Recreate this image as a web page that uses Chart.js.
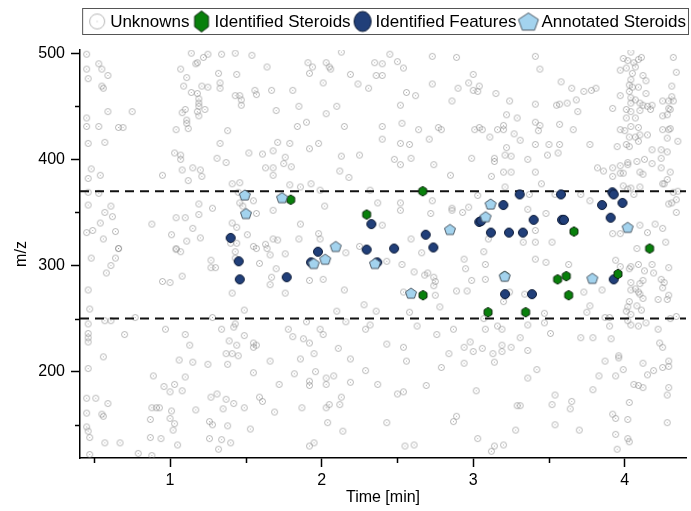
<!DOCTYPE html>
<html>
<head>
<meta charset="utf-8">
<title>m/z vs time</title>
<script src="https://cdn.jsdelivr.net/npm/chart.js@4.4.0/dist/chart.umd.min.js"></script>
<style>
  html, body { margin: 0; padding: 0; background: #fff; }
  #wrap { width: 691px; height: 511px; }
</style>
</head>
<body>
<div id="wrap"><canvas id="mz-chart" width="691" height="511"></canvas></div>
<script>
// Retention time [min] vs m/z feature map

const X_MIN = 0.406, X_MAX = 4.404;
const Y_MIN = 118.7, Y_MAX = 503;
const xTicks = [1, 2, 3, 4];
const xMinorTicks = [0.5, 1.5, 2.5, 3.5];
const yTicks = [200, 300, 400, 500];
const yMinorTicks = [150, 250, 350, 450];
const windowLimits = [370, 250];

const LABELS = ["Unknowns", "Identified Steroids", "Identified Features", "Annotated Steroids"];

const identifiedSteroids = [
  [1.796, 362], [2.297, 348], [2.667, 370], [2.669, 272], [3.098, 256], [3.346, 256],
  [3.208, 290], [3.557, 287], [3.614, 290], [3.630, 272], [3.665, 332], [3.955, 292],
  [4.164, 316],
];

const identifiedFeatures = [
  [1.400, 326], [1.453, 304], [1.460, 287], [1.770, 289], [1.976, 313], [1.930, 303],
  [2.297, 315], [2.328, 339], [2.367, 303], [2.478, 316], [2.687, 329], [2.737, 317],
  [3.040, 341], [3.053, 342], [3.117, 331], [3.199, 357], [3.210, 273], [3.236, 331],
  [3.307, 367], [3.328, 331], [3.388, 273], [3.399, 343], [3.579, 367], [3.586, 343],
  [3.599, 343], [3.850, 357], [3.907, 345], [3.918, 369], [3.927, 367], [3.927, 287],
  [3.985, 359],
];

const annotatedSteroids = [
  [1.493, 366.5], [1.501, 349], [1.739, 364], [2.093, 318], [1.948, 302], [2.024, 306],
  [2.352, 302], [2.590, 274], [2.847, 334], [3.082, 346], [3.115, 358], [3.208, 290],
  [3.786, 288], [4.019, 336],
];

const unknowns = [
  // 0.4 - 2.4 min, upper half
  [0.45,499],[1.14,500],[1.17,490],[1.18,491],[1.22,496],[1.25,499],[1.34,499],[1.43,500],[1.54,498],[2.13,501],
  [0.53,490],[0.45,485],[0.55,485],[1.07,485],[1.64,487],[1.91,491],[1.94,487],[1.92,481],[2.03,491],[2.05,487],
  [2.06,485],[2.35,491],[2.40,490],[0.46,476],[0.59,479],[1.32,481],[1.44,480],[1.11,477],[2.19,480],[2.36,479],
  [2.40,479],[0.55,469],[0.56,467],[1.09,469],[1.21,469],[1.25,468],[1.33,472],[1.33,467],[1.67,465],[1.81,465],
  [1.56,465],[2.01,472],[2.24,471],[2.31,467],[1.14,463],[1.18,462],[1.19,457],[1.19,453],[1.43,460],[1.46,460],
  [1.47,456],[1.47,451],[1.57,461],[1.19,450],[0.59,445],[0.75,445],[1.08,444],[1.10,447],[1.18,445],[1.19,441],
  [1.23,447],[1.70,446],[1.85,450],[2.03,443],[2.10,450],[0.45,439],[0.45,431],[0.53,431],[0.66,430],[0.69,430],
  [1.11,437],[1.11,434],[1.12,429],[1.04,428],[1.38,427],[1.84,431],[1.90,435],[2.15,431],[2.40,431],[0.46,415],
  [0.57,416],[1.33,415],[1.71,416],[1.79,415],[1.98,415],[2.40,419],[1.92,410],[1.03,406],[1.07,404],[1.07,400],
  [1.31,401],[1.37,397],[1.52,406],[1.61,405],[1.68,408],[1.76,402],[2.13,403],[2.25,404],[0.48,391],[0.46,382],
  [0.54,385],[1.08,390],[1.15,392],[1.20,390],[1.21,384],[0.95,385],[1.12,380],[1.63,392],[1.68,392],[1.75,396],
  [1.68,385],[1.80,393],[2.12,389],[2.18,383],[1.46,378],[1.41,377],[1.79,376],[1.86,374],[1.93,377],[0.46,369],
  [0.53,368],[1.45,369],[1.99,371],[2.32,371],[0.46,357],[0.57,350],[0.61,356],[0.62,346],[0.54,340],[0.49,333],
  [0.45,331],[0.64,332],[0.56,325],[0.66,316],[0.88,339],[1.04,345],[1.10,345],[1.19,358],[1.19,348],[1.28,354],
  [1.15,335],[1.01,329],[1.11,323],[1.20,326],[1.04,316],[1.46,359],[1.48,356],[1.55,361],[1.57,349],[1.41,340],
  [1.44,336],[1.51,329],[1.40,321],[1.44,321],[1.55,318],[1.63,320],[1.68,325],[1.71,324],[1.68,352],[1.86,339],
  [1.98,330],[1.99,325],[1.85,325],[2.02,356],[2.37,359],[2.40,338],[2.25,318],[1.64,316],
  // 2.4 - 4.4 min, upper half
  [2.45,499],[2.50,492],[2.54,486],[2.73,497],[2.89,496],[3.41,497],[3.44,485],[3.58,473],[2.73,471],[2.56,463],
  [2.62,460],[2.90,467],[2.97,472],[3.00,465],[3.04,469],[3.03,464],[3.00,480],[3.15,462],[2.86,455],[2.52,451],
  [3.24,455],[3.41,452],[3.55,451],[3.57,452],[3.62,453],[3.69,445],[3.68,456],[3.73,464],[3.78,465],[3.81,467],
  [3.65,467],[3.22,442],[3.29,439],[2.53,434],[2.64,428],[2.79,428],[2.77,430],[3.01,428],[3.04,430],[3.06,428],
  [3.16,428],[3.20,432],[3.20,428],[3.11,421],[3.27,424],[3.41,435],[3.44,432],[3.43,427],[3.57,433],[3.66,428],
  [2.71,419],[3.31,418],[2.52,415],[2.58,414],[3.41,414],[3.50,414],[3.57,414],[3.77,414],[3.22,411],[3.21,404],
  [3.25,403],[3.14,401],[3.14,398],[3.49,404],[3.56,406],[2.99,401],[3.36,400],[2.48,400],[2.52,395],[2.59,401],
  [2.74,395],[3.20,388],[3.25,388],[3.41,388],[2.85,385],[3.12,384],[3.45,377],[3.21,374],[2.73,361],[2.52,359],
  [2.52,352],[2.72,349],[2.86,354],[2.86,352],[2.93,350],[2.97,355],[3.03,366],[3.36,353],[3.48,349],[3.37,367],
  [3.54,367],[3.71,367],[3.77,361],[3.33,322],[3.41,322],[3.52,322],[3.10,325],[2.59,325],[3.41,333],[3.92,330],
  [3.97,330],[4.10,338],[4.15,331],[4.20,339],[4.25,335],[4.08,316],[4.27,322],
  [4.04,501],[3.99,495],[4.11,496],[4.02,493],[4.06,491],[4.09,494],[3.97,484],[4.01,486],[4.07,487],[4.05,481],
  [4.12,479],[4.14,474],[4.04,475],[4.03,470],[4.05,468],[4.09,468],[4.03,464],[4.14,462],[3.97,460],[4.04,458],
  [4.04,453],[4.07,456],[4.10,453],[4.12,451],[4.15,450],[4.18,451],[4.25,455],[4.29,455],[4.32,455],[4.29,448],
  [4.30,447],[4.28,442],[4.25,441],[4.32,496],[4.34,482],[4.31,469],[4.31,459],[3.92,448],[4.01,447],[4.04,445],
  [4.10,446],[4.17,447],[4.01,439],[4.07,439],[4.04,431],[4.09,430],[3.97,428],[4.00,427],[4.03,421],[4.07,421],
  [4.10,423],[4.15,423],[4.01,414],[4.03,412],[3.95,412],[4.09,417],[4.25,428],[4.29,428],[4.28,420],[4.30,429],
  [4.35,417],[4.24,409],[4.28,407],[4.18,409],[4.13,400],[4.08,398],[4.02,397],[3.97,394],[3.92,392],[3.82,392],
  [3.86,389],[3.92,384],[3.97,387],[3.99,387],[4.02,395],[4.10,388],[4.12,386],[4.24,401],[4.24,392],[4.30,388],
  [4.28,381],[4.26,377],[4.18,396],[3.99,375],[4.02,372],[4.04,373],[4.10,374],[4.06,367],[4.25,377],[4.31,359],
  [4.34,362],[4.29,358],[4.34,350],[4.32,369],[4.35,370],
  // 0.4 - 2.4 min, lower half
  [0.48,307],[0.66,316],[0.64,307],[0.61,300],[0.58,293],[1.04,315],[1.07,313],[1.27,305],[1.27,298],[1.30,298],
  [1.08,290],[0.95,285],[1.00,284],[0.46,277],[0.47,259],[1.43,313],[1.43,307],[1.57,316],[1.66,310],[1.59,302],
  [1.70,297],[1.67,289],[1.66,282],[1.41,274],[1.76,311],[1.76,274],[1.92,286],[2.01,287],[2.15,277],[2.16,312],
  [2.28,263],[2.36,257],[1.49,258],[2.10,257],[0.57,248],[0.61,248],[0.77,251],[1.28,251],[0.46,245],[0.46,236],
  [0.46,232],[0.46,228],[0.70,235],[0.97,240],[1.10,235],[1.34,240],[1.42,242],[1.43,245],[1.49,234],[1.39,229],
  [1.44,225],[1.37,217],[1.41,217],[1.45,215],[1.55,227],[1.55,223],[1.57,225],[1.13,225],[1.78,240],[1.81,233],
  [1.88,231],[1.92,227],[1.99,240],[2.01,235],[1.90,247],[2.16,247],[2.29,240],[2.32,244],[2.11,222],[1.95,217],
  [2.19,212],[1.86,212],[1.66,210],[0.56,214],[1.06,211],[1.15,209],[1.25,207],[1.38,207],[0.46,203],[1.55,199],
  [0.89,196],[1.10,195],[1.82,198],[1.96,200],[2.03,194],[2.08,196],[2.03,188],[1.92,191],[1.92,187],[2.29,201],
  [2.19,190],[2.37,188],[1.72,188],[0.96,186],[1.03,188],[1.00,181],[1.08,182],[1.27,176],[1.31,179],[1.37,174],
  [1.42,170],[1.49,166],[1.59,176],[1.61,172],[0.45,175],[0.51,175],[0.59,170],[0.45,161],[0.55,160],[0.56,158],
  [0.88,166],[0.91,166],[0.93,166],[1.01,163],[1.17,164],[1.35,165],[1.69,162],[1.87,166],[2.03,166],[2.05,169],
  [2.12,169],[2.13,176],[0.87,155],[1.00,156],[1.03,151],[1.02,145],[1.26,153],[1.28,150],[1.38,149],[1.53,146],
  [2.04,152],[2.14,144],[0.45,148],[0.46,144],[0.47,138],[0.87,138],[0.94,137],[1.05,131],[1.26,137],[1.34,136],
  [1.40,133],[1.32,127],[0.57,133],[0.67,133],[1.95,133],[1.92,130],[0.47,122],[0.79,123],[0.88,121],
  // 2.4 - 4.4 min, lower half
  [2.43,304],[2.53,301],[2.66,312],[2.61,294],[2.68,291],[2.70,293],[2.74,289],[2.75,285],[2.74,281],[2.94,306],
  [2.95,297],[2.99,286],[2.96,276],[2.89,276],[3.07,313],[3.08,301],[3.08,287],[3.41,306],[3.48,303],[3.63,301],
  [2.54,275],[2.75,272],[2.78,261],[3.21,273],[3.20,266],[3.24,275],[3.34,273],[3.73,275],[3.77,262],[3.85,277],
  [3.94,305],[3.97,299],[4.03,297],[4.04,299],[4.09,301],[4.13,295],[4.18,301],[4.29,298],[4.19,293],[4.12,286],
  [4.10,283],[4.04,284],[4.04,277],[4.07,278],[4.09,275],[4.10,273],[4.12,269],[4.03,266],[4.02,261],[4.08,262],
  [4.11,258],[4.04,254],[4.01,257],[4.24,287],[4.26,284],[4.25,279],[4.29,272],[4.28,268],[4.22,268],[4.34,252],
  [4.30,250],[3.47,255],[3.47,246],[3.51,236],[3.87,251],[3.90,251],[3.90,243],[3.75,256],[4.02,248],[4.04,244],
  [4.09,243],[4.14,246],[3.07,250],[3.08,240],[3.16,243],[3.19,240],[3.36,244],[2.58,256],[2.63,243],[2.76,235],
  [2.87,240],[2.43,226],[2.54,223],[2.84,217],[2.94,223],[2.98,228],[3.00,219],[3.06,222],[2.94,208],[3.13,217],
  [3.14,209],[3.19,225],[3.25,223],[3.19,219],[3.31,232],[3.36,220],[3.71,232],[3.79,232],[3.91,231],[4.23,227],
  [4.25,223],[4.22,240],[2.56,210],[2.79,204],[3.87,210],[3.96,215],[3.96,213],[3.99,202],[3.94,196],[3.83,196],
  [4.12,208],[4.15,197],[4.19,201],[4.25,204],[4.29,205],[4.29,210],[3.42,202],[3.36,194],[2.69,187],[2.50,179],
  [2.54,181],[3.02,182],[3.54,178],[3.52,169],[3.65,172],[3.64,165],[3.29,168],[3.31,168],[3.79,183],[4.06,188],
  [4.09,187],[4.12,185],[4.03,171],[4.29,185],[4.28,178],[3.92,160],[3.94,156],[4.02,155],[2.43,152],[2.87,153],
  [2.89,158],[3.28,145],[3.54,150],[3.70,145],[4.28,152],[3.03,137],[3.20,131],[3.14,130],[3.12,125],[2.55,130],
  [2.61,131],[3.94,141],[4.02,137],[4.03,134],[3.95,127],
];

const toXY = pts => pts.map(([x, y]) => ({ x, y }));

// ── Marker images ───────────────────────────────────────────
function marker(size, draw) {
  const c = document.createElement("canvas");
  c.width = size;
  c.height = size;
  draw(c.getContext("2d"), size / 2);
  return c;
}

function polyPath(ctx, cx, cy, rx, ry, sides) {
  ctx.beginPath();
  for (let i = 0; i < sides; i++) {
    const a = -Math.PI / 2 + (i * 2 * Math.PI) / sides;
    const px = cx + rx * Math.cos(a), py = cy + ry * Math.sin(a);
    if (i === 0) ctx.moveTo(px, py); else ctx.lineTo(px, py);
  }
  ctx.closePath();
}

function unknownMark(size, r) {
  return marker(size, (ctx, c) => {
    ctx.strokeStyle = "rgba(125,125,125,0.8)";
    ctx.lineWidth = 0.7;
    ctx.beginPath();
    ctx.arc(c, c, r, 0, Math.PI * 2);
    ctx.stroke();
    ctx.fillStyle = "rgba(125,125,125,0.55)";
    ctx.fillRect(c - 0.5, c - 0.5, 1, 1);
  });
}

function hexMark(size, rx, ry) {
  return marker(size, (ctx, c) => {
    polyPath(ctx, c, c, rx, ry, 6);
    ctx.fillStyle = "#08800b";
    ctx.fill();
    ctx.strokeStyle = "#0f2a10";
    ctx.lineWidth = 1;
    ctx.stroke();
  });
}

function circleMark(size, rx, ry) {
  return marker(size, (ctx, c) => {
    ctx.beginPath();
    ctx.ellipse(c, c, rx, ry, 0, 0, Math.PI * 2);
    ctx.fillStyle = "#213f79";
    ctx.fill();
    ctx.strokeStyle = "#0c1a36";
    ctx.lineWidth = 1;
    ctx.stroke();
  });
}

function pentMark(size, rx, ry) {
  return marker(size, (ctx, c) => {
    polyPath(ctx, c, c + ry * 0.1, rx, ry, 5);
    ctx.fillStyle = "#a3d3ee";
    ctx.fill();
    ctx.strokeStyle = "#4f5b66";
    ctx.lineWidth = 1;
    ctx.stroke();
  });
}

const markUnknown = unknownMark(9, 3);
const markSteroid = hexMark(12, 4.6, 4.8);
const markFeature = circleMark(12, 4.5, 4.5);
const markAnnotated = pentMark(14, 5.8, 5.6);

const legendMarks = [
  unknownMark(24, 7.5),
  hexMark(24, 8, 10.5),
  circleMark(24, 8.5, 10),
  pentMark(24, 10.5, 9.5),
];

// ── Extras: minor ticks and boxed legend ────────────────────
const FONT = "'Liberation Sans', Arial, sans-serif";

const extras = {
  id: "extras",
  afterDraw(chart) {
    const ctx = chart.ctx;
    const xs = chart.scales.x, ys = chart.scales.y;
    ctx.save();
    ctx.strokeStyle = "#000";
    ctx.lineWidth = 1.5;
    ctx.beginPath();
    xMinorTicks.forEach(v => {
      const px = Math.round(xs.getPixelForValue(v)) + 0.5;
      ctx.moveTo(px, ys.bottom);
      ctx.lineTo(px, ys.bottom + 5);
    });
    yMinorTicks.forEach(v => {
      const py = Math.round(ys.getPixelForValue(v)) + 0.5;
      ctx.moveTo(xs.left, py);
      ctx.lineTo(xs.left - 5, py);
    });
    ctx.stroke();

    // legend, right-aligned in a thin box
    ctx.font = "17px " + FONT;
    ctx.textBaseline = "middle";
    ctx.fillStyle = "#000";
    const symW = 20, gapIn = 3, gapOut = 2;
    const widths = LABELS.map(t => ctx.measureText(t).width);
    const total = widths.reduce((s, w) => s + symW + gapIn + w + gapOut, 0);
    const right = 689, top = 8, h = 26;
    const left = right - total - 6;
    ctx.strokeStyle = "#555";
    ctx.lineWidth = 1;
    ctx.strokeRect(left + 0.5, top + 0.5, right - left - 1, h);
    let cx = left + 5;
    const cy = top + h / 2 + 0.5;
    LABELS.forEach((t, i) => {
      const img = legendMarks[i];
      ctx.drawImage(img, cx + symW / 2 - img.width / 2, cy - img.height / 2);
      cx += symW + gapIn;
      ctx.fillText(t, cx, cy + 1);
      cx += widths[i] + gapOut;
    });
    ctx.restore();
  },
};

// ── Chart ───────────────────────────────────────────────────
const limitLine = y => ({
  type: "line",
  data: [{ x: X_MIN, y }, { x: X_MAX, y }],
  borderColor: "#111",
  borderWidth: 2,
  borderDash: [9, 6],
  pointRadius: 0,
  order: 3,
});

new Chart(document.getElementById("mz-chart"), {
  type: "scatter",
  data: {
    datasets: [
      { label: LABELS[0], data: toXY(unknowns), pointStyle: markUnknown, order: 4 },
      ...windowLimits.map(limitLine),
      { label: LABELS[1], data: toXY(identifiedSteroids), pointStyle: markSteroid, order: 1 },
      { label: LABELS[2], data: toXY(identifiedFeatures), pointStyle: markFeature, order: 2 },
      { label: LABELS[3], data: toXY(annotatedSteroids), pointStyle: markAnnotated, order: 0 },
    ],
  },
  options: {
    responsive: false,
    animation: false,
    events: [],
    layout: { padding: { left: 12, right: 5, top: 50, bottom: 0 } },
    plugins: { legend: { display: false }, tooltip: { enabled: false } },
    scales: {
      x: {
        type: "linear",
        min: X_MIN,
        max: X_MAX,
        afterBuildTicks: s => { s.ticks = xTicks.map(value => ({ value })); },
        afterFit: s => { s.height = 53; },
        border: { display: true, color: "#000", width: 1.5 },
        grid: { display: true, drawOnChartArea: false, tickLength: 9, tickColor: "#000", tickWidth: 1.5 },
        ticks: { color: "#000", padding: 4, font: { family: FONT, size: 16 }, maxRotation: 0 },
        title: { display: true, text: "Time [min]", color: "#000", font: { family: FONT, size: 16 }, padding: { top: 0, bottom: 4 } },
      },
      y: {
        type: "linear",
        min: Y_MIN,
        max: Y_MAX,
        afterBuildTicks: s => { s.ticks = yTicks.map(value => ({ value })); },
        afterFit: s => { s.width = 68; },
        border: { display: true, color: "#000", width: 1.5 },
        grid: { display: true, drawOnChartArea: false, tickLength: 9, tickColor: "#000", tickWidth: 1.5 },
        ticks: { color: "#000", padding: 6, font: { family: FONT, size: 16 } },
        title: { display: true, text: "m/z", color: "#000", font: { family: FONT, size: 16 }, padding: { top: 0, bottom: 0 } },
      },
    },
  },
  plugins: [extras],
});
</script>
</body>
</html>
